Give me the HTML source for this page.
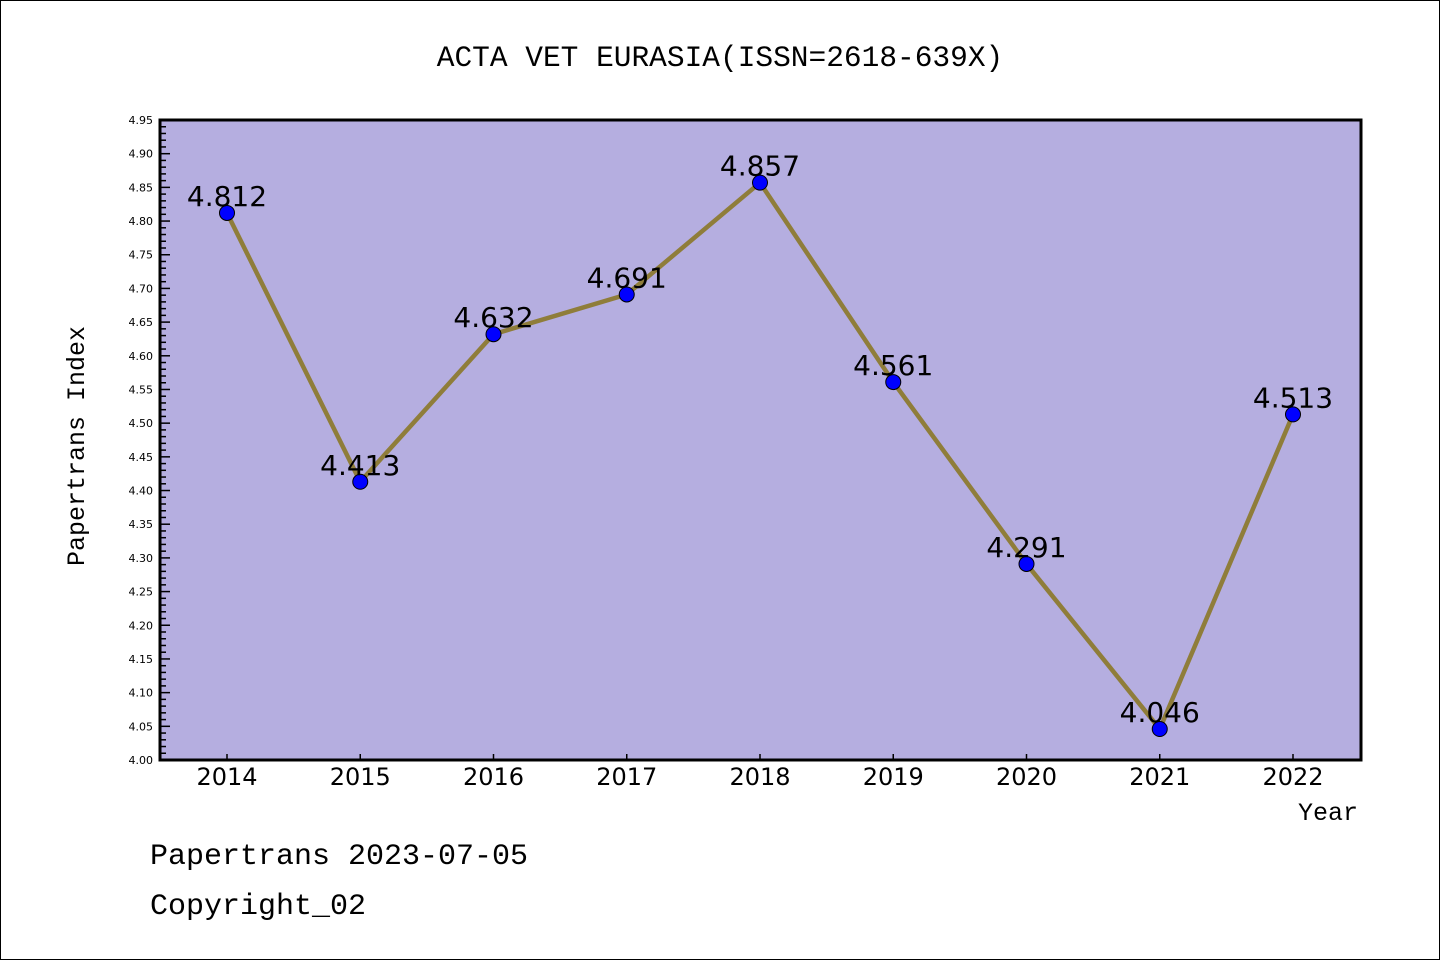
<!DOCTYPE html>
<html><head><meta charset="utf-8"><style>
html,body{margin:0;padding:0;background:#fff}
svg{display:block;font-family:"Liberation Mono","DejaVu Sans Mono",monospace}
</style></head><body>
<svg id="chart" width="1440" height="960" viewBox="0 0 1440 960" xmlns="http://www.w3.org/2000/svg">
<rect x="0.5" y="0.5" width="1439" height="959" fill="#fff" stroke="#000"/>
<text x="720" y="66" text-anchor="middle" font-size="29.5">ACTA VET EURASIA(ISSN=2618-639X)</text>
<rect x="160" y="120" width="1201" height="640" fill="#b5aee0"/>
<g id="yaxis"></g>
<g id="xaxis"></g>
<g id="series"></g>
<rect x="160" y="120" width="1201" height="640" fill="none" stroke="#000" stroke-width="3"/>
<text transform="translate(84,446) rotate(-90)" text-anchor="middle" font-size="25">Papertrans Index</text>
<text x="1358" y="820" text-anchor="end" font-size="25">Year</text>
<text x="150" y="864" font-size="30">Papertrans 2023-07-05</text>
<text x="150" y="914" font-size="30">Copyright_02</text>
</svg>
<script>
const categories = ["2014","2015","2016","2017","2018","2019","2020","2021","2022"];
const values = [4.812,4.413,4.632,4.691,4.857,4.561,4.291,4.046,4.513];
const valueLabels = ["4.812","4.413","4.632","4.691","4.857","4.561","4.291","4.046","4.513"];
const yTicks = ["4.00","4.05","4.10","4.15","4.20","4.25","4.30","4.35","4.40","4.45","4.50","4.55","4.60","4.65","4.70","4.75","4.80","4.85","4.90","4.95"];
const NS="http://www.w3.org/2000/svg";
const yMin=4.0,yMax=4.95,plotTop=120,plotBot=760;
function y(v){return plotBot-(v-yMin)/(yMax-yMin)*(plotBot-plotTop);}
function x(i){return 227+i*133.25;}
function mk(t,a,p){const e=document.createElementNS(NS,t);for(const k in a)e.setAttribute(k,a[k]);p.appendChild(e);return e;}
const ya=document.getElementById('yaxis'),xa=document.getElementById('xaxis'),sg=document.getElementById('series');
for(let k=0;k<=95;k++){const v=yMin+k*0.01;const major=k%5===0;
 const t=mk('line',{x1:160,x2:160+(major?10:6),y1:y(v),y2:y(v),stroke:'#000','stroke-width':1.5},ya);
 
 }
yTicks.forEach(s=>{const tx=mk('text',{x:153,y:y(parseFloat(s))+4,'text-anchor':'end','font-size':11,'font-family':'DejaVu Sans, sans-serif'},ya);tx.textContent=s;
 
 });
categories.forEach((c,i)=>{const t=mk('line',{x1:x(i),x2:x(i),y1:plotBot,y2:plotBot-6,stroke:'#000','stroke-width':1.5},xa);
 
 
 const tx=mk('text',{x:x(i),y:785,'text-anchor':'middle','font-size':24,'font-family':'DejaVu Sans, sans-serif'},xa);tx.textContent=c;
 
 });
const pts=values.map((v,i)=>x(i)+','+y(v)).join(' ');
const pl=mk('polyline',{points:pts,fill:'none',stroke:'#8f7d3a','stroke-width':4.5,'stroke-linejoin':'miter'},sg);


values.forEach((v,i)=>{const c=mk('circle',{cx:x(i),cy:y(v),r:7.5,fill:'#0000ff',stroke:'#000','stroke-width':1},sg);
 
 
 const tx=mk('text',{x:x(i),y:y(v)-7,'text-anchor':'middle','font-size':28,'font-family':'DejaVu Sans, sans-serif'},sg);tx.textContent=valueLabels[i];
 
 });
</script>
</body></html>
